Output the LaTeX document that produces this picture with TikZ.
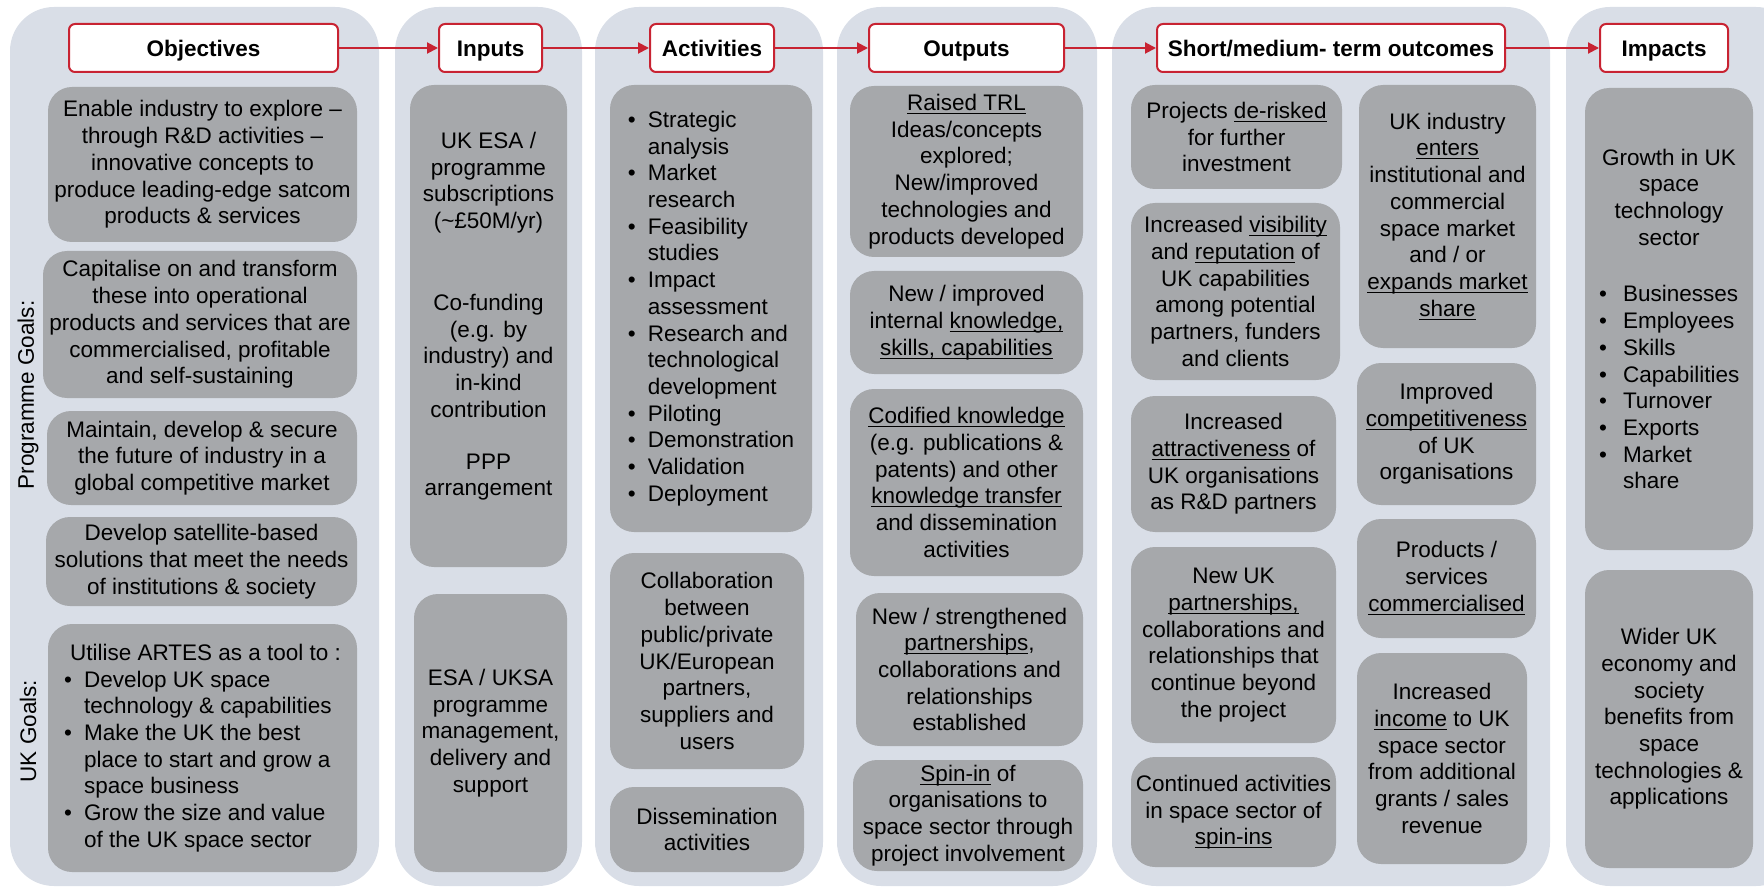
\documentclass[tikz,border=0pt]{standalone}
\usepackage{fontspec}
\setmainfont{Liberation Sans}
\usepackage{tikz}
\usetikzlibrary{arrows.meta}

\definecolor{panelblue}{RGB}{217,222,231}
\definecolor{cellgrey}{RGB}{166,168,171}
\definecolor{headred}{RGB}{200,35,50}

\newcommand{\undl}[1]{\underline{\raisebox{0pt}[\height][0pt]{#1}}}
\newcommand{\bul}{\makebox[10pt][l]{\textbullet}}
\newcommand{\ind}{\hspace*{10pt}}
\newcommand{\impbul}[1]{\makebox[70pt][l]{\makebox[12pt][l]{\textbullet}#1}}
\newcommand{\impcnt}[1]{\makebox[70pt][l]{\hspace*{12pt}#1}}

\begin{document}
\begin{tikzpicture}[x=0.5pt, y=-0.5pt,
  every node/.style={font=\fontsize{11.25}{13.35}\selectfont, inner sep=2pt},
  panel/.style={fill=panelblue, rounded corners=22pt},
  head/.style={draw=headred, line width=1pt, fill=white, rounded corners=3pt,
    minimum height=24pt, text height=8.05pt, text depth=0pt,
    font=\fontsize{11.25}{13.35}\selectfont\bfseries},
  cell/.style={fill=cellgrey, rounded corners=12pt, align=center},
  link/.style={draw=headred, line width=1pt, -{Triangle[length=5.5pt,width=5.5pt]}}]

  \useasboundingbox (0,0) rectangle (1764,887);

  % Paneles
  \fill[panel] (10,7) rectangle (379,886);
  \fill[panel] (395,7) rectangle (582,886);
  \fill[panel] (595,7) rectangle (823,886);
  \fill[panel] (837,7) rectangle (1097,886);
  \fill[panel] (1112,7) rectangle (1550,886);
  \fill[panel] (1566,7) rectangle (1800,886);

  % Encabezados
  \node[head, minimum width=134.5pt] (objh) at (203.5,48) {Objectives};
  \node[head, minimum width=51.5pt] (inph) at (490.5,48) {Inputs};
  \node[head, minimum width=62pt] (acth) at (712,48) {Activities};
  \node[head, minimum width=97.5pt] (outh) at (966.5,48) {Outputs};
  \node[head, minimum width=174pt] (smh) at (1331,48) {Short/medium- term outcomes};
  \node[head, minimum width=64pt] (imph) at (1664,48) {Impacts};

  % Flechas
  \draw[link] (objh) -- (inph);
  \draw[link] (inph) -- (acth);
  \draw[link] (acth) -- (outh);
  \draw[link] (outh) -- (smh);
  \draw[link] (smh) -- (imph);

  % Objetivos
  \node[rotate=90] (proglbl) at (28,395) {Programme Goals:};
  \node[rotate=90] (uklbl) at (28,731) {UK Goals:};
  \node[cell, minimum width=154.5pt, minimum height=77.5pt] (enable) at (202.5,164.5)
    {Enable industry to explore --\\through R\&D activities --\\innovative concepts to\\produce leading-edge satcom\\products \& services};
  \node[cell, minimum width=157pt, minimum height=73.5pt] (capital) at (200,324.5)
    {Capitalise on and transform\\these into operational\\products and services that are\\commercialised, profitable\\and self-sustaining};
  \node[cell, minimum width=155pt, minimum height=47pt] (maintain) at (202,458)
    {Maintain, develop \& secure\\the future of industry in a\\global competitive market};
  \node[cell, minimum width=155.5pt, minimum height=44.5pt] (satbased) at (201.5,561.5)
    {Develop satellite-based\\solutions that meet the needs\\of institutions \& society};
  \node[cell, align=left, minimum width=154.5pt, minimum height=124pt] (utilise) at (202.5,748)
    {\hspace*{3pt}Utilise ARTES as a tool to :\\\bul Develop UK space\\\ind technology \& capabilities\\\bul Make the UK the best\\\ind place to start and grow a\\\ind space business\\\bul Grow the size and value\\\ind of the UK space sector};

  % Entradas
  \node[cell, minimum width=78.5pt, minimum height=241pt] (esasub) at (488.5,326)
    {UK ESA /\\programme\\subscriptions\\(\textasciitilde£50M/yr)\\[27.6pt]Co-funding\\(e.g. by\\industry) and\\in-kind\\contribution\\[12.7pt]PPP\\arrangement\\[-1.35pt]\mbox{}};
  \node[cell, minimum width=76.5pt, minimum height=139pt] (esamgmt) at (490.5,733)
    {ESA / UKSA\\programme\\management,\\delivery and\\support};

  % Actividades
  \node[cell, align=left, minimum width=101pt, minimum height=223.5pt] (actlist) at (711,308.5)
    {\bul Strategic\\\ind analysis\\\bul Market\\\ind research\\\bul Feasibility\\\ind studies\\\bul Impact\\\ind assessment\\\bul Research and\\\ind technological\\\ind development\\\bul Piloting\\\bul Demonstration\\\bul Validation\\\bul Deployment};
  \node[cell, minimum width=97pt, minimum height=108pt] (collab) at (707,661)
    {Collaboration\\between\\public/private\\UK/European\\partners,\\suppliers and\\users};
  \node[cell, minimum width=97pt, minimum height=42.5pt] (dissem) at (707,829.5)
    {Dissemination\\activities};

  % Productos
  \node[cell, minimum width=116.5pt, minimum height=85.5pt] (trl) at (966.5,171.5)
    {\undl{Raised TRL}\\Ideas/concepts\\explored;\\New/improved\\technologies and\\products developed};
  \node[cell, minimum width=116.5pt, minimum height=51.5pt] (intknow) at (966.5,322.5)
    {New / improved\\internal \undl{knowledge,}\\\undl{skills, capabilities}};
  \node[cell, minimum width=116.5pt, minimum height=93.5pt] (codified) at (966.5,482.5)
    {\undl{Codified knowledge}\\(e.g. publications \&\\patents) and other\\\undl{knowledge transfer}\\and dissemination\\activities};
  \node[cell, minimum width=113.5pt, minimum height=76.5pt] (partner) at (969.5,669.5)
    {New / strengthened\\\undl{partnerships},\\collaborations and\\relationships\\established};
  \node[cell, minimum width=115pt, minimum height=55.5pt] (spinin) at (968,815.5)
    {\undl{Spin-in} of\\organisations to\\space sector through\\project involvement};

  % Resultados
  \node[cell, minimum width=105.5pt, minimum height=52pt] (derisk) at (1236.5,137)
    {Projects \undl{de-risked}\\for further\\investment};
  \node[cell, minimum width=104.5pt, minimum height=88.5pt] (visib) at (1235.5,291.5)
    {Increased \undl{visibility}\\and \undl{reputation} of\\UK capabilities\\among potential\\partners, funders\\and clients};
  \node[cell, minimum width=102.5pt, minimum height=68pt] (attract) at (1233.5,464)
    {Increased\\\undl{attractiveness} of\\UK organisations\\as R\&D partners};
  \node[cell, minimum width=102.5pt, minimum height=98pt] (newpart) at (1233.5,645)
    {New UK\\\undl{partnerships,}\\collaborations and\\relationships that\\continue beyond\\the project};
  \node[cell, minimum width=102.5pt, minimum height=55pt] (contin) at (1233.5,812)
    {Continued activities\\in space sector of\\\undl{spin-ins}};
  \node[cell, minimum width=88.5pt, minimum height=131.5pt] (enters) at (1447.5,216.5)
    {UK industry\\\undl{enters}\\institutional and\\commercial\\space market\\and / or\\\undl{expands market}\\\undl{share}};
  \node[cell, minimum width=89.5pt, minimum height=71pt] (compet) at (1446.5,434)
    {Improved\\\undl{competitiveness}\\of UK\\organisations};
  \node[cell, minimum width=89.5pt, minimum height=59.5pt] (commerc) at (1446.5,578.5)
    {Products /\\services\\\undl{commercialised}};
  \node[cell, minimum width=85pt, minimum height=105.5pt] (income) at (1442,758.5)
    {Increased\\\undl{income} to UK\\space sector\\from additional\\grants / sales\\revenue};

  % Impactos
  \node[cell, minimum width=84pt, minimum height=231pt] (growth) at (1669,319)
    {Growth in UK\\space\\technology\\sector\\[15pt]\impbul{Businesses}\\\impbul{Employees}\\\impbul{Skills}\\\impbul{Capabilities}\\\impbul{Turnover}\\\impbul{Exports}\\\impbul{Market}\\\impcnt{share}};
  \node[cell, minimum width=84pt, minimum height=149pt] (wider) at (1669,719)
    {Wider UK\\economy and\\society\\benefits from\\space\\technologies \&\\applications};
\end{tikzpicture}
\end{document}
